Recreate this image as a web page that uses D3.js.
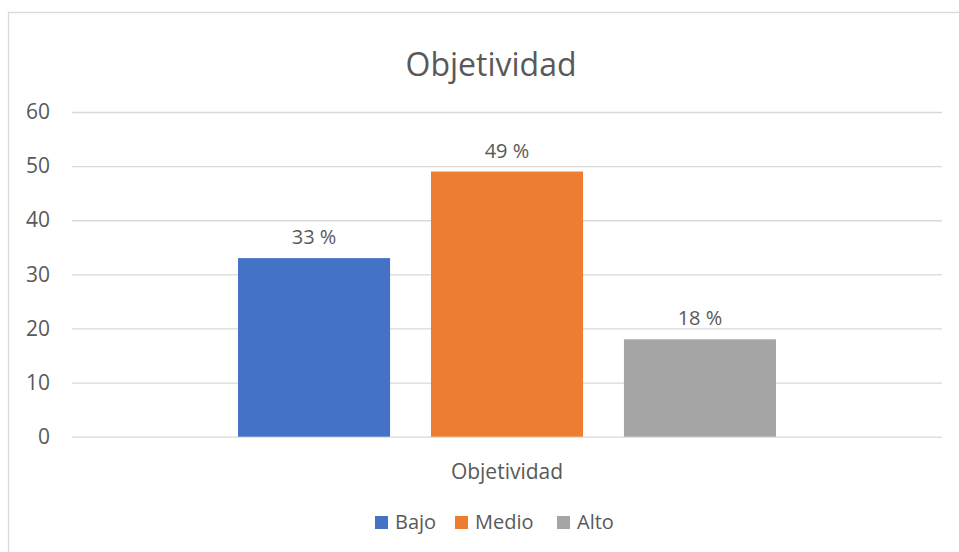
<!DOCTYPE html>
<html><head><meta charset="utf-8">
<script src="https://cdn.jsdelivr.net/npm/d3@7"></script>
<style>body{margin:0;background:#fff}svg{display:block}text{font-family:"Open Sans",sans-serif;fill:#595959}</style>
</head><body><svg id="c" width="959" height="552"></svg>
<script>
const categories = ["Objetividad"];
const series = ["Bajo", "Medio", "Alto"];
const values = [33, 49, 18];
const labels = ["33 %", "49 %", "18 %"];
const colors = ["#4472C4", "#ED7D31", "#A5A5A5"];
const yTicks = [0, 10, 20, 30, 40, 50, 60];
const title = "Objetividad";

const svg = d3.select("#c");
svg.append("rect").attr("x", 8.5).attr("y", 12.5).attr("width", 1000).attr("height", 600)
  .attr("fill", "#fff").attr("stroke", "#D9D9D9").attr("stroke-width", 1.3);

const L = 72, R = 942, T = 112, B = 436.7;
const y = d3.scaleLinear().domain([0, 60]).range([B, T]);
const x0 = d3.scaleBand().domain(categories).range([L, R]).paddingOuter(0.3086);
const x1 = d3.scaleBand().domain(series).range([0, x0.bandwidth()]).paddingInner(0.212);

const yAxis = d3.axisLeft(y).tickValues(yTicks).tickSize(-(R - L)).tickPadding(22);
const gy = svg.append("g").attr("transform", `translate(${L},0)`).call(yAxis);
gy.select(".domain").remove();
gy.selectAll(".tick line").attr("stroke", "#D9D9D9").attr("stroke-width", 1.3);
gy.selectAll(".tick text").attr("font-size", 21).style("fill", "#595959").attr("font-family", "Open Sans");

const g = svg.append("g").attr("transform", `translate(${x0(categories[0])},0)`);
g.selectAll("rect").data(values).join("rect")
  .attr("x", (d, i) => x1(series[i])).attr("width", x1.bandwidth())
  .attr("y", d => y(d)).attr("height", d => y(0) - y(d))
  .attr("fill", (d, i) => colors[i]);
g.selectAll("text.lbl").data(values).join("text").attr("class", "lbl")
  .attr("x", (d, i) => x1(series[i]) + x1.bandwidth() / 2).attr("y", d => y(d) - 14)
  .attr("text-anchor", "middle").attr("font-size", 20).text((d, i) => labels[i]);

const xAxis = d3.axisBottom(x0).tickSize(0).tickPadding(27);
const gx = svg.append("g").attr("transform", `translate(0,${B})`).call(xAxis);
gx.select(".domain").remove();
gx.selectAll(".tick text").attr("font-size", 21).style("fill", "#595959").attr("font-family", "Open Sans");

svg.append("text").attr("x", 491).attr("y", 76).attr("text-anchor", "middle")
  .attr("font-size", 32).text(title);

// legend
const lg = svg.append("g").attr("transform", "translate(0,529)");
const legX = [375, 455, 557];
series.forEach((s, i) => {
  lg.append("rect").attr("x", legX[i]).attr("y", -13).attr("width", 13).attr("height", 13).attr("fill", colors[i]);
  lg.append("text").attr("x", legX[i] + 20).attr("y", 0).attr("font-size", 20).text(s);
});
</script></body></html>
